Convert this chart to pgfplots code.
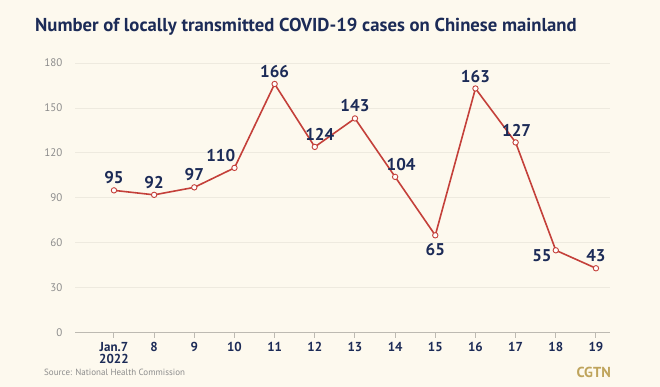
\documentclass[border=0pt]{standalone}
\usepackage{pgfplots}
\pgfplotsset{compat=1.18}
\usepackage{fontspec}
\setmainfont{PT Sans}
\definecolor{bg}{HTML}{FDF9EE}
\definecolor{navy}{HTML}{1C2B57}
\definecolor{redl}{HTML}{C4403A}
\definecolor{tickgray}{HTML}{8C8C8C}
\definecolor{gridc}{HTML}{EEEADF}
\definecolor{axisc}{HTML}{BDBAB2}
\definecolor{gold}{HTML}{BFA45C}
\begin{document}
\begin{tikzpicture}[x=1pt,y=1pt]
\fill[bg] (0,0) rectangle (660,387);
\node[anchor=base west, inner sep=0, text=navy, font=\fontsize{18.7}{22}\selectfont\bfseries] at (35,355) {Number of locally transmitted COVID-19 cases on Chinese mainland};
\node[anchor=west, inner sep=0, text=tickgray, font=\fontsize{9}{10}\selectfont] at (44,15) {Source: National Health Commission};
\node[anchor=east, inner sep=0, text=gold, font=\fontsize{14.5}{16}\selectfont\bfseries] at (611,15) {CGTN};
\begin{axis}[
  at={(75pt,54.3pt)}, anchor=south west,
  scale only axis, width=535pt, height=269.7pt,
  xmin=-0.97, xmax=12.35, ymin=0, ymax=180,
  clip=false,
  axis line style={draw=none},
  ymajorgrids, grid style={gridc, line width=0.8pt},
  ytick={0,30,...,180},
  xtick={0,...,12},
  xticklabels={{Jan.7\\2022},8,9,10,11,12,13,14,15,16,17,18,19},
  xtick pos=left, ytick pos=left,
  tick align=outside, major tick length=5pt,
  x tick style={axisc, line width=1pt},
  y tick style={draw=none},
  /pgf/number format/assume math mode=true,
  yticklabel style={text=tickgray, font=\fontsize{11}{12}\selectfont, anchor=east, xshift=-4pt},
  xticklabel style={text=navy, font=\fontsize{13}{12.5}\selectfont\bfseries, align=center, anchor=north, yshift=-1pt},
]
\draw[axisc, line width=1.2pt] (axis cs:-0.97,0) -- (axis cs:12.35,0);
\addplot[redl, line width=1.6pt, mark=*, mark size=2.7pt, mark options={fill=white, draw=redl, line width=0.9pt}]
  coordinates {(0,95)(1,92)(2,97)(3,110)(4,166)(5,124)(6,143)(7,104)(8,65)(9,163)(10,127)(11,55)(12,43)};
\begin{scope}[every node/.style={inner sep=0, text=navy, font=\fontsize{17}{19}\selectfont\bfseries}]
\node[anchor=south, yshift=6pt] at (axis cs:0,95) {95};
\node[anchor=south, yshift=6pt] at (axis cs:1,92) {92};
\node[anchor=south, yshift=6pt] at (axis cs:2,97) {97};
\node[anchor=south east, yshift=6pt, xshift=1pt] at (axis cs:3,110) {110};
\node[anchor=south, yshift=6pt] at (axis cs:4,166) {166};
\node[anchor=south, yshift=6pt, xshift=5pt] at (axis cs:5,124) {124};
\node[anchor=south, yshift=6pt] at (axis cs:6,143) {143};
\node[anchor=south, yshift=6pt, xshift=6pt] at (axis cs:7,104) {104};
\node[anchor=north, yshift=-8pt] at (axis cs:8,65) {65};
\node[anchor=south, yshift=6pt] at (axis cs:9,163) {163};
\node[anchor=south, yshift=6pt, xshift=1pt] at (axis cs:10,127) {127};
\node[anchor=east, yshift=-5pt, xshift=-4pt] at (axis cs:11,55) {55};
\node[anchor=south, yshift=6pt] at (axis cs:12,43) {43};
\end{scope}
\end{axis}
\end{tikzpicture}
\end{document}
